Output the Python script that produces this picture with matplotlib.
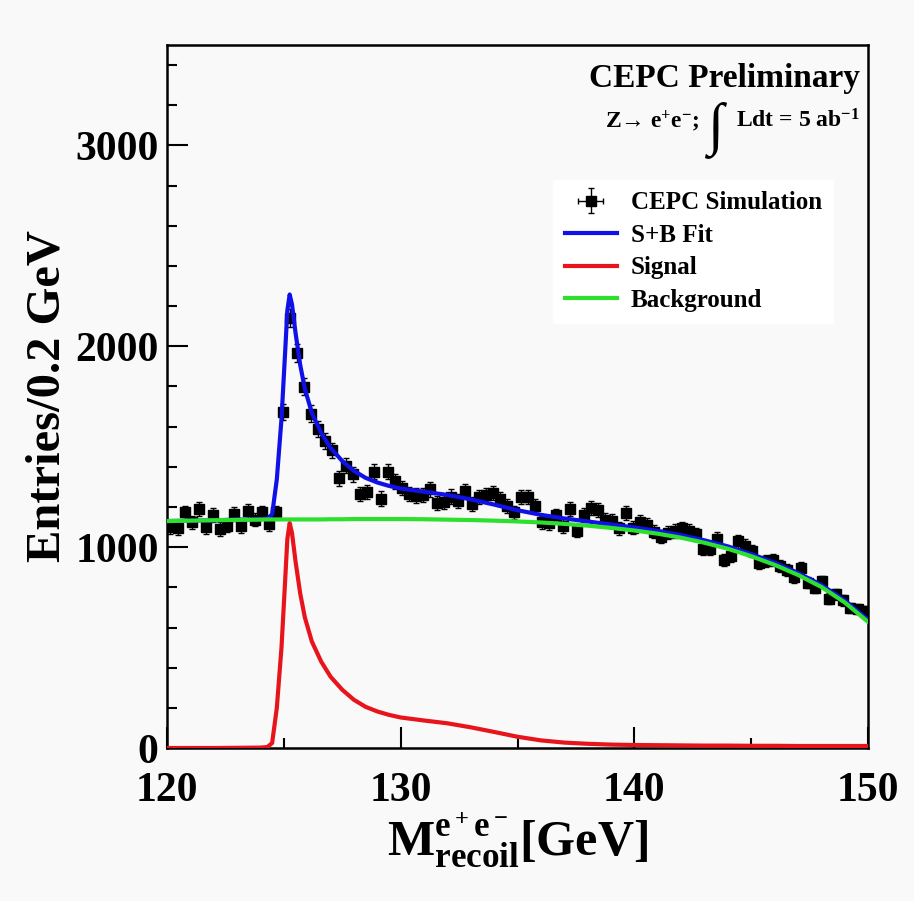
import matplotlib
matplotlib.use('Agg')
import matplotlib.pyplot as plt
import numpy as np

# binned simulation (0.3 GeV spacing)
bin_lo = 120.0
bin_w = 0.3
counts = [1098, 1093, 1173, 1123, 1190, 1098, 1160, 1090, 1107, 1165,
          1103, 1182, 1137, 1173, 1115, 1173, 1673, 2140, 1965, 1798,
          1665, 1590, 1528, 1482, 1342, 1405, 1363, 1265, 1275, 1375,
          1242, 1375, 1328, 1294, 1265, 1257, 1260, 1288, 1218, 1223,
          1252, 1232, 1280, 1215, 1248, 1261, 1269, 1240, 1205, 1173,
          1251, 1250, 1203, 1124, 1119, 1158, 1106, 1188, 1082, 1160,
          1193, 1184, 1135, 1130, 1094, 1171, 1097, 1127, 1111, 1076,
          1052, 1072, 1080, 1094, 1080, 1065, 993, 990, 1041, 936,
          957, 1030, 1007, 980, 923, 932, 936, 908, 886, 852,
          896, 823, 798, 830, 744, 765, 735, 698, 692, 682]

# fit curves read at these masses
curve_x = [120, 121, 122, 123, 124, 124.3, 124.5, 124.7, 124.9, 125.05,
           125.15, 125.25, 125.35, 125.5, 125.7, 125.9, 126.2, 126.6, 127.0, 127.5,
           128.0, 128.5, 129.0, 129.5, 130, 131, 132, 133, 134, 135,
           136, 137, 138, 139, 140, 141, 142, 143, 144, 145,
           146, 147, 148, 149, 150]
bkg_fit = [1130, 1132, 1134, 1136, 1137, 1138, 1138, 1138, 1138, 1138,
           1138, 1138, 1138, 1138, 1138, 1138, 1138, 1138, 1139, 1139,
           1140, 1140, 1140, 1140, 1140, 1139, 1137, 1135, 1132, 1128,
           1123, 1116, 1107, 1096, 1083, 1067, 1047, 1022, 992, 955,
           912, 862, 802, 725, 628]
sig_fit = [0, 0, 0, 1, 2, 5, 25, 200, 500, 820,
           1040, 1120, 1070, 930, 770, 650, 530, 430, 355, 290,
           240, 205, 182, 165, 152, 137, 123, 103, 80, 56,
           38, 27, 21, 17, 15, 14, 13, 12, 12, 11,
           11, 10, 10, 10, 10]
sb_fit = [1130, 1132, 1134, 1137, 1139, 1143, 1163, 1338, 1638, 1958,
          2178, 2258, 2208, 2068, 1908, 1788, 1668, 1568, 1494, 1429,
          1380, 1345, 1322, 1305, 1292, 1276, 1260, 1238, 1212, 1184,
          1161, 1143, 1128, 1113, 1098, 1081, 1060, 1034, 1004, 966,
          923, 872, 812, 735, 638]

x_ticks = [120, 130, 140, 150]
y_ticks = [0, 1000, 2000, 3000]

serif = ['Liberation Serif', 'DejaVu Serif']
plt.rcParams['font.family'] = serif
plt.rcParams['font.weight'] = 'bold'
plt.rcParams['axes.labelweight'] = 'bold'
plt.rcParams['mathtext.fontset'] = 'custom'
plt.rcParams['mathtext.rm'] = 'Liberation Serif:bold'
plt.rcParams['mathtext.it'] = 'Liberation Serif:bold'
plt.rcParams['mathtext.bf'] = 'Liberation Serif:bold'

bg = '#f9f9f9'
fig = plt.figure(figsize=(9.14, 9.01), dpi=100, facecolor=bg)
ax = fig.add_axes([0.1827, 0.1698, 0.7670, 0.7802], facecolor=bg)

# data points with poisson errors
counts = np.array(counts)
centers = bin_lo + bin_w * (np.arange(len(counts)) + 0.5)
data = ax.errorbar(centers, counts, yerr=np.sqrt(counts), xerr=bin_w / 2,
                   fmt='s', color='black', ms=7.5, elinewidth=1, capsize=2.2,
                   capthick=1, zorder=2, label='CEPC Simulation')

# fit components
l_sb, = ax.plot(curve_x, sb_fit, color='#1010e8', lw=3, zorder=3, label='S+B Fit')
l_sig, = ax.plot(curve_x, sig_fit, color='#e8141c', lw=3, zorder=3, label='Signal')
l_bkg, = ax.plot(curve_x, bkg_fit, color='#2ee02e', lw=3, zorder=4, label='Background')

ax.set_xlim(120, 150)
ax.set_ylim(0, 3500)
ax.set_xticks(x_ticks)
ax.set_yticks(y_ticks)
ax.set_xticks(np.arange(125, 150, 10), minor=True)
ax.set_yticks(np.arange(200, 3500, 200), minor=True)
ax.tick_params(which='both', direction='in', top=False, right=False,
               labelsize=30, width=1.5)
ax.tick_params(which='major', length=15)
ax.tick_params(which='minor', length=7.5)
ax.tick_params(axis='x', pad=17)
ax.tick_params(axis='y', pad=6)
for s in ax.spines.values():
    s.set_linewidth(1.8)

ax.set_ylabel('Entries/0.2 GeV', fontsize=35, labelpad=4)
ax.set_xlabel(r'$\mathrm{M^{e^+e^-}_{recoil}}$[GeV]', fontsize=36, labelpad=0)

# header text
ax.text(0.988, 0.975, 'CEPC Preliminary', transform=ax.transAxes,
        ha='right', va='top', fontsize=24)
ax.text(0.988, 0.882, r'Ldt = 5 ab$^{-1}$', transform=ax.transAxes,
        ha='right', va='baseline', fontsize=17)
ax.text(0.793, 0.862, '\u222b', transform=ax.transAxes,
        ha='right', va='baseline', fontsize=42, family=serif)
ax.text(0.76, 0.882, 'Z\u2192 e$^{+}$e$^{-}$;', transform=ax.transAxes,
        ha='right', va='baseline', fontsize=17)

ax.legend([data, l_sb, l_sig, l_bkg],
          ['CEPC Simulation', 'S+B Fit', 'Signal', 'Background'],
          loc='upper left', bbox_to_anchor=(0.551, 0.808), fontsize=18,
          frameon=True, fancybox=False, edgecolor='white',
          facecolor='white', framealpha=1, handlelength=2.1,
          handletextpad=0.55, labelspacing=0.38, borderpad=0.45,
          borderaxespad=0)

fig.savefig('out.png', dpi=100, facecolor=bg)
